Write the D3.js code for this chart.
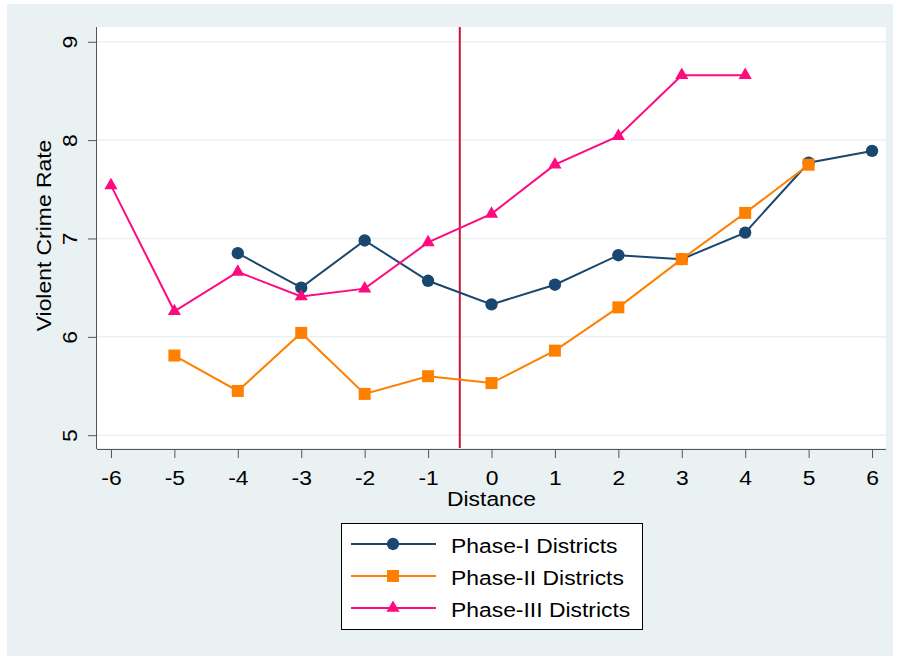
<!DOCTYPE html>
<html>
<head>
<meta charset="utf-8">
<script src="https://cdn.jsdelivr.net/npm/d3@7"></script>
<style>
  body { margin: 0; background: #fff; }
  svg text { font-family: "Liberation Sans", Arial, sans-serif; fill: #000; }
</style>
</head>
<body>
<div id="plotContainer"></div>
<script>
// chart values
const distances = [-6, -5, -4, -3, -2, -1, 0, 1, 2, 3, 4, 5, 6];
const phase1X = [-4, -3, -2, -1, 0, 1, 2, 3, 4, 5, 6];
const phase1Y = [6.85, 6.50, 6.98, 6.57, 6.33, 6.53, 6.83, 6.79, 7.06, 7.77, 7.89];
const phase2X = [-5, -4, -3, -2, -1, 0, 1, 2, 3, 4, 5];
const phase2Y = [5.81, 5.45, 6.04, 5.42, 5.60, 5.53, 5.86, 6.30, 6.79, 7.26, 7.75];
const phase3X = [-6, -5, -4, -3, -2, -1, 0, 1, 2, 3, 4];
const phase3Y = [7.54, 6.26, 6.66, 6.41, 6.49, 6.96, 7.25, 7.75, 8.04, 8.66, 8.66];
const yTicks = [5, 6, 7, 8, 9];
const seriesNames = ["Phase-I Districts", "Phase-II Districts", "Phase-III Districts"];
const cutoff = -0.5;

const svgWidth = 900, svgHeight = 660;
const stretch = "scale(1.09,1)"; // text in the picture is a bit wide along its run
let margin = {top: 27, right: 14, bottom: 212, left: 97},
    width = svgWidth - margin.left - margin.right,
    height = svgHeight - margin.top - margin.bottom;

let svg = d3.select("#plotContainer").append("svg")
  .attr("width", svgWidth)
  .attr("height", svgHeight);

// outer background
svg.append("rect")
  .attr("x", 7).attr("y", 4)
  .attr("width", 886).attr("height", 652)
  .attr("fill", "#eaf1f3");

let main = svg.append("g")
  .attr("transform", "translate(" + margin.left + "," + margin.top + ")");

main.append("rect")
  .attr("width", width).attr("height", height)
  .attr("fill", "#fff");

let x = d3.scaleLinear().domain([-6.22, 6.22]).range([0, width]);
let y = d3.scaleLinear().domain([4.87, 9.15]).range([height, 0]);

// gridlines
main.selectAll(".grid").data(yTicks).enter().append("line")
  .attr("x1", 0).attr("x2", width)
  .attr("y1", d => y(d)).attr("y2", d => y(d))
  .attr("stroke", "#eaf1f3").attr("stroke-width", 1.5);

// axes
let xAxis = d3.axisBottom(x).tickValues(distances).tickSize(9).tickPadding(12).tickFormat(d => String(d));
let gx = main.append("g").attr("transform", "translate(0," + (height + 1) + ")").call(xAxis);
gx.select(".domain").attr("stroke", "#555").attr("d", "M0,0.5H" + width);
gx.selectAll(".tick line").attr("stroke", "#555");
gx.selectAll(".tick text").style("font-size", "21px").attr("fill", "#000")
  .attr("transform", stretch);

let yAxis = d3.axisLeft(y).tickValues(yTicks).tickSize(9).tickFormat(d3.format("d"));
let gy = main.append("g").call(yAxis);
gy.select(".domain").attr("stroke", "#555").attr("d", "M-0.5,0V" + (height + 1));
gy.selectAll(".tick line").attr("stroke", "#555");
gy.selectAll(".tick text")
  .style("font-size", "21px").attr("fill", "#000")
  .attr("x", null).attr("dy", null)
  .attr("text-anchor", "middle")
  .attr("transform", "translate(-20,0) rotate(-90) " + stretch)
  .attr("y", 0);

// axis titles
main.append("g")
  .attr("transform", "translate(" + (width / 2) + "," + (height + 58) + ")")
  .append("text")
  .attr("transform", stretch)
  .attr("text-anchor", "middle").style("font-size", "21px")
  .text("Distance");

main.append("text")
  .attr("transform", "translate(" + (-46) + "," + (height / 2 - 2) + ") rotate(-90) " + stretch)
  .attr("text-anchor", "middle").style("font-size", "21px")
  .text("Violent Crime Rate");

// cutoff line
main.append("line")
  .attr("x1", x(cutoff)).attr("x2", x(cutoff))
  .attr("y1", 0).attr("y2", height)
  .attr("stroke", "#d0103a").attr("stroke-width", 2);

const series = [
  {name: seriesNames[0], xs: phase1X, ys: phase1Y, color: "#1a476f", shape: d3.symbolCircle, size: 120},
  {name: seriesNames[1], xs: phase2X, ys: phase2Y, color: "#ff8000", shape: d3.symbolSquare, size: 144},
  {name: seriesNames[2], xs: phase3X, ys: phase3Y, color: "#ff0a7f", shape: d3.symbolTriangle, size: 75}
];

let line = d3.line().x(d => x(d[0])).y(d => y(d[1]));

series.forEach(s => {
  let pts = s.xs.map((v, i) => [v, s.ys[i]]);
  main.append("path").datum(pts)
    .attr("d", line).attr("fill", "none")
    .attr("stroke", s.color).attr("stroke-width", 2);
  main.selectAll(null).data(pts).enter().append("path")
    .attr("d", d3.symbol().type(s.shape).size(s.size))
    .attr("transform", d => "translate(" + x(d[0]) + "," + y(d[1]) + ")")
    .attr("fill", s.color);
});

// legend
let legend = svg.append("g").attr("transform", "translate(341,523)");
legend.append("rect")
  .attr("x", 0.5).attr("y", 0.5).attr("width", 301).attr("height", 106)
  .attr("fill", "#fff").attr("stroke", "#000").attr("stroke-width", 1);

series.forEach((s, i) => {
  let ly = 21 + i * 32;
  legend.append("line")
    .attr("x1", 10).attr("x2", 95).attr("y1", ly).attr("y2", ly)
    .attr("stroke", s.color).attr("stroke-width", 2);
  legend.append("path")
    .attr("d", d3.symbol().type(s.shape).size(s.size))
    .attr("transform", "translate(52," + ly + ")")
    .attr("fill", s.color);
  legend.append("g")
    .attr("transform", "translate(110," + (ly + 9) + ")")
    .append("text")
    .attr("transform", stretch)
    .style("font-size", "21px")
    .text(s.name);
});
</script>
</body>
</html>
